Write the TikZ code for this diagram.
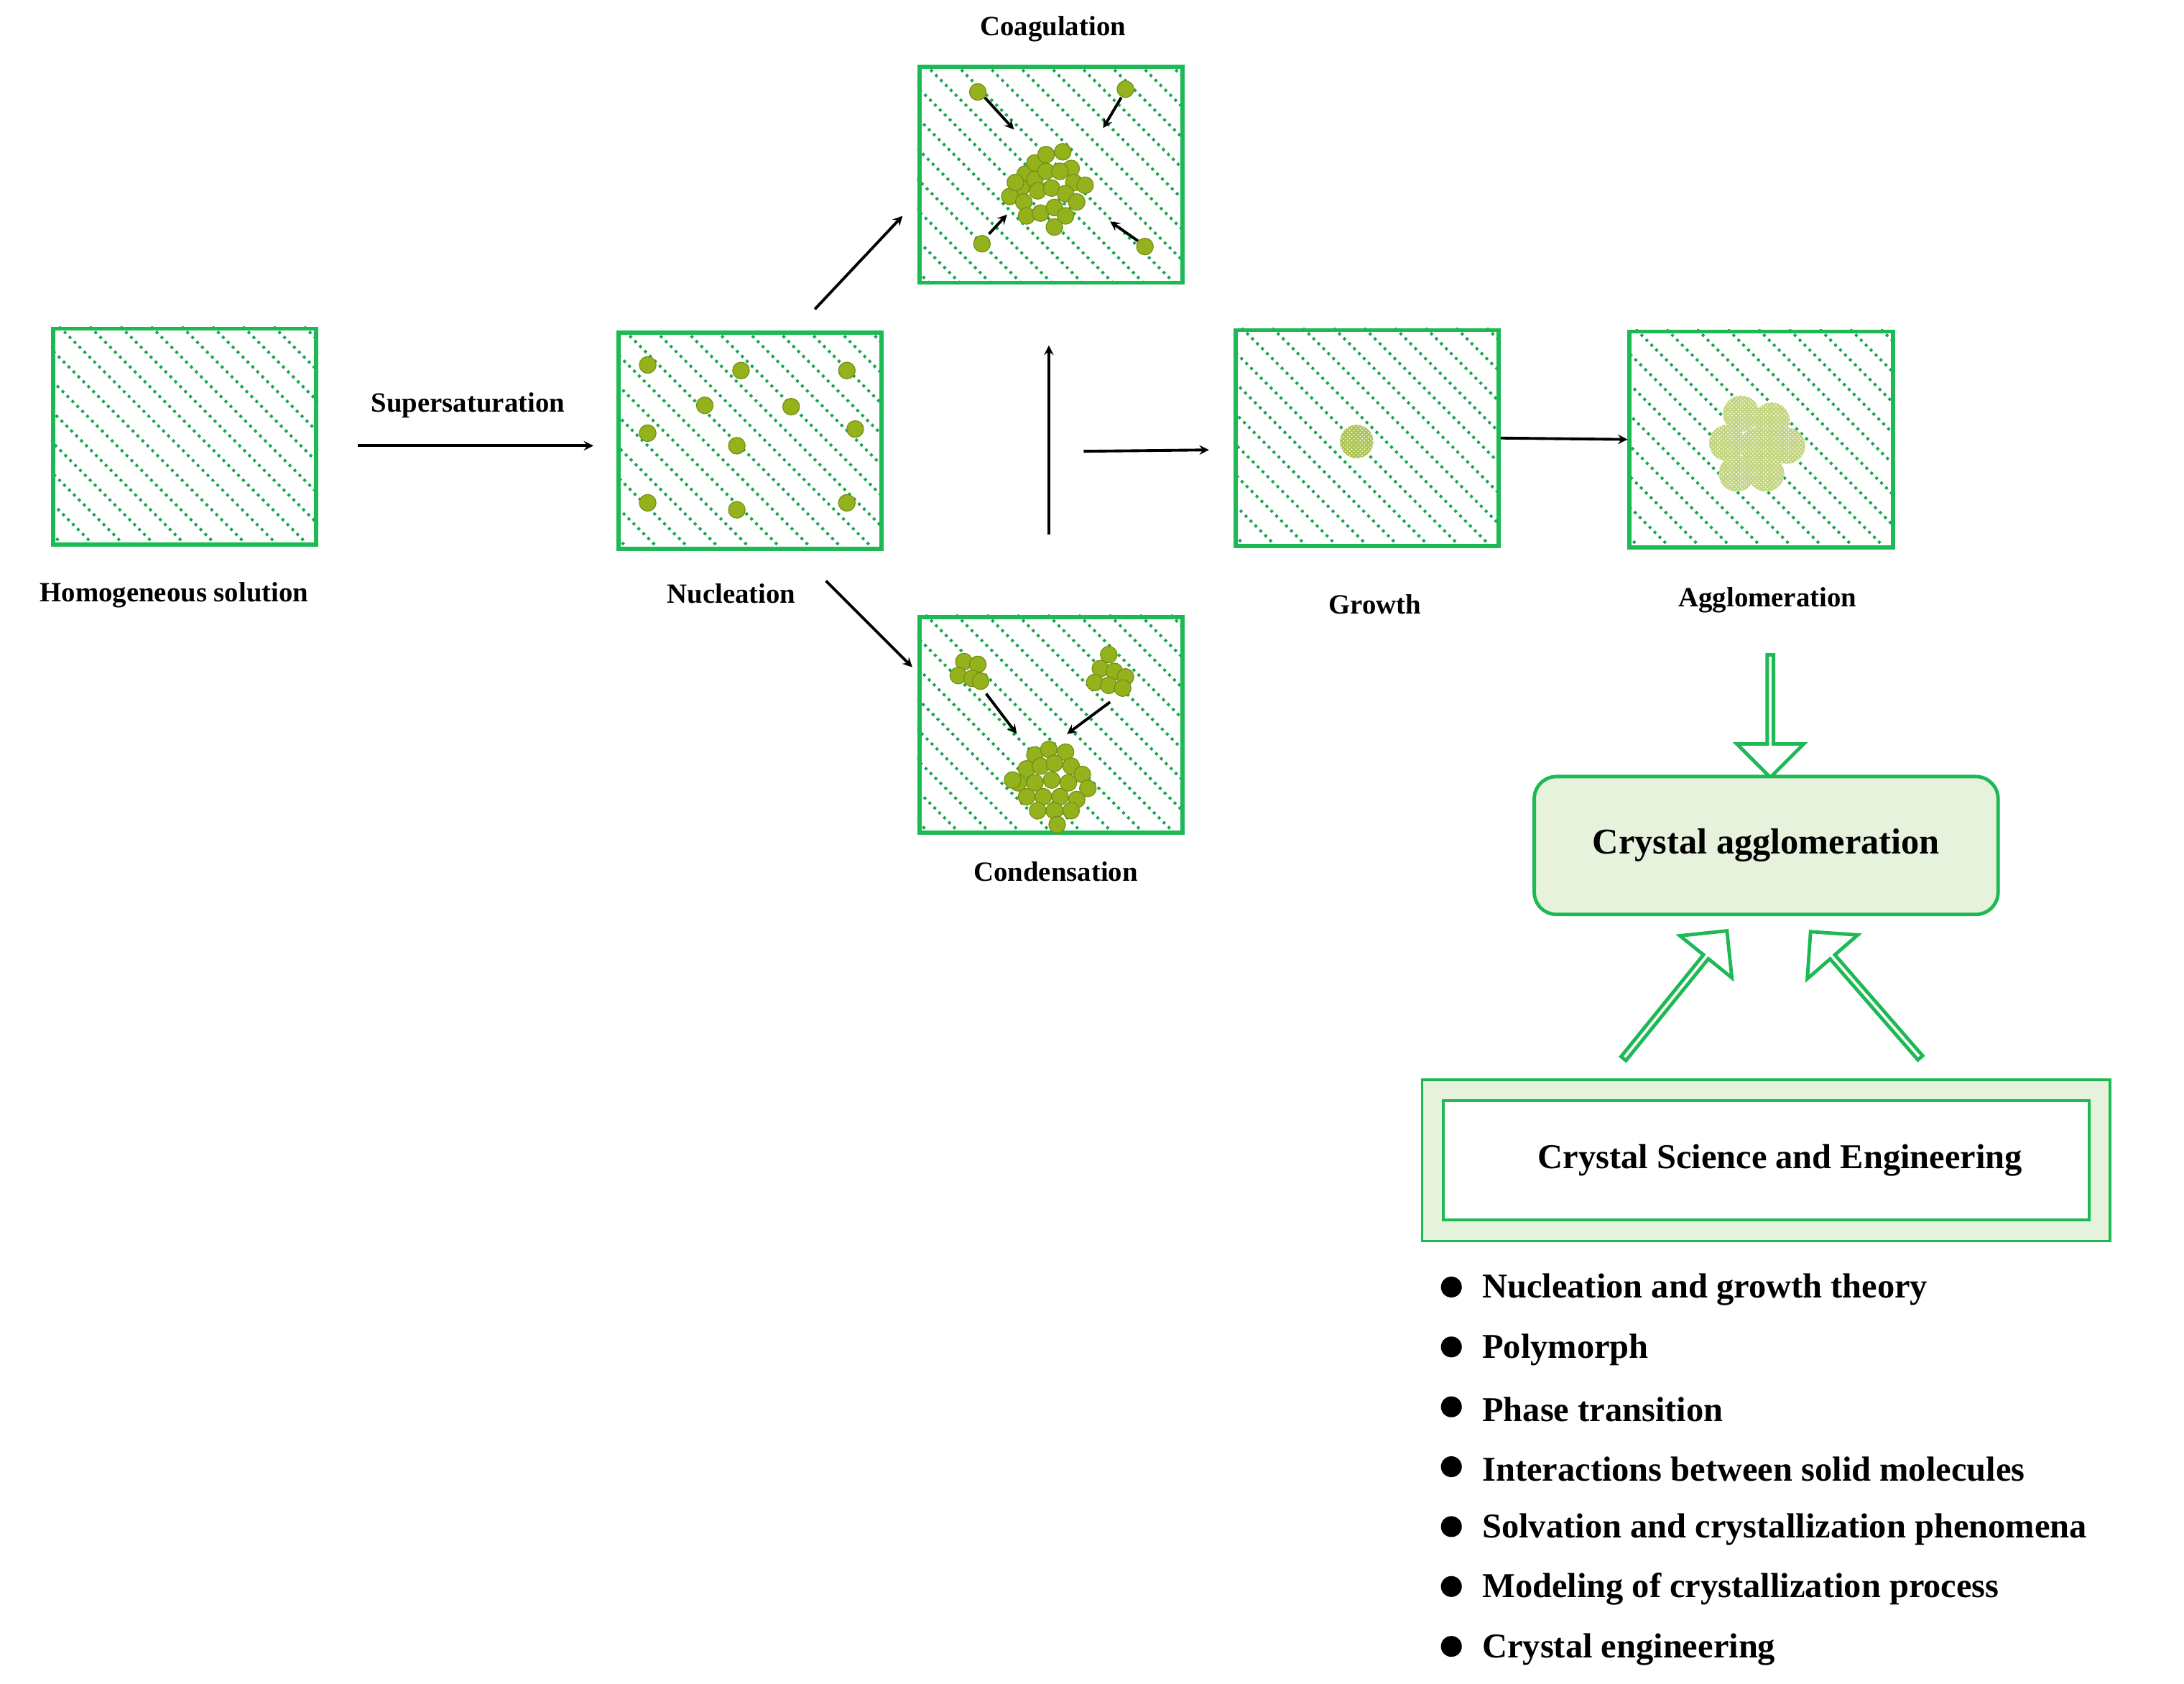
\documentclass[tikz,border=0pt]{standalone}
\usepackage{fontspec}
\setmainfont{Liberation Serif}
\usetikzlibrary{shapes.arrows,patterns}
\definecolor{boxgreen}{HTML}{1DB954}
\definecolor{dotgreen}{HTML}{16A84A}
\definecolor{olive}{HTML}{93B21C}
\definecolor{palegreen}{HTML}{E6F2DC}

\tikzset{
  sol box/.style={draw=boxgreen,line width=3pt,minimum width=189pt,minimum height=155pt,inner sep=0pt},
  hatch/.style={dotgreen,line width=2pt,dash pattern=on 2pt off 3pt},
  lbl/.style={font=\fontsize{20}{24}\selectfont\bfseries},
  item/.style={font=\fontsize{25}{30}\selectfont\bfseries,anchor=west,inner sep=0pt},
  flow/.style={->,>=stealth,line width=2pt},
  small/.style={->,>=stealth,line width=2pt,shorten >=0pt},
  ball/.style={fill=olive,draw=olive!80!black,line width=.6pt},
  bigball/.style={fill=olive!70,pattern color=white},
  hollow/.style={single arrow,draw=boxgreen,fill=white,line width=2.5pt,minimum width=48pt,
    single arrow head extend=12pt,inner sep=0pt,single arrow tip angle=90}
}

% box with dotted diagonal hatching
\newcommand{\solbox}[3]{%
  \node[sol box] (#1) at (#2+94.5,#3+77.5) {};
  \begin{scope}
    \clip (#1.south west) rectangle (#1.north east);
    \foreach \k in {-170,-148,...,200}
      \draw[hatch] ([xshift=\k pt]#1.north west) -- ++(220,220);
  \end{scope}
  \node[sol box] at (#1) {};}

\begin{document}
\begin{tikzpicture}[x=1pt,y=-1pt]
\useasboundingbox (0,0) rectangle (1568,1209);

% the six vessels
\solbox{homo}{38}{236}
\solbox{nucl}{444}{239}
\solbox{coag}{660}{48}
\solbox{cond}{660}{443}
\solbox{grow}{887}{237}
\solbox{aggl}{1170}{238}

\node[lbl] (lhomo) at (125,427) {Homogeneous solution};
\node[lbl] (lsup) at (336,291) {Supersaturation};
\node[lbl] (lnucl) at (525,426) {Nucleation};
\node[lbl] (lcoag) at (756,21) {Coagulation};
\node[lbl] (lcond) at (758,626) {Condensation};
\node[lbl] (lgrow) at (987,434) {Growth};
\node[lbl] (laggl) at (1269,431) {Agglomeration};

% nuclei
\foreach \x/\y in {465/262,532/266,608/266,506/291,568/292,465/311,614/308,529/320,465/361,529/366,608/361}
  \fill[ball] (\x,\y) circle (6);

% coagulation
\foreach \x/\y in {-17/-10,-10/-18,-2/-24,10/-26,16/-14,-20/0,-10/-6,-2/-12,8/-12,18/-4,26/-2,-28/6,-18/10,-8/2,2/0,12/4,20/10,-16/20,-6/18,4/14,12/20,4/28,-24/-4}
  \fill[ball] (753+\x,135+\y) circle (6);
\foreach \x/\y in {702/66,808/64,705/175,822/177}
  \fill[ball] (\x,\y) circle (6);
\coordinate (c1) at (707,70); \coordinate (c1e) at (728,93);
\coordinate (c2) at (805,70); \coordinate (c2e) at (792,92);
\coordinate (c3) at (710,168); \coordinate (c3e) at (723,154);
\coordinate (c4) at (817,173); \coordinate (c4e) at (797,159);
\foreach \a in {c1,c2,c3,c4}
  \draw[small] (\a) -- (\a e);

% condensation
\foreach \x/\y in {-4/-6,6/-4,-8/4,2/6,8/8}
  \fill[ball] (696+\x,481+\y) circle (6);
\foreach \x/\y in {0/-12,-6/-2,4/0,12/4,-10/8,0/10,10/12}
  \fill[ball] (796+\x,482+\y) circle (6);
\foreach \x/\y in {-14/-18,-4/-22,8/-20,-20/-8,-10/-10,0/-12,12/-10,20/-4,-26/2,-14/2,-2/0,10/2,24/6,-20/12,-8/12,4/12,16/14,-12/22,0/22,12/22,2/32,-30/0}
  \fill[ball] (757+\x,560+\y) circle (6);
\coordinate (d1) at (708,498); \coordinate (d1e) at (730,527);
\coordinate (d2) at (797,504); \coordinate (d2e) at (766,527);
\foreach \a in {d1,d2}
  \draw[small] (\a) -- (\a e);

% grown crystals
\fill[olive!75] (974,317) circle (12);
\fill[pattern=crosshatch dots,pattern color=white] (974,317) circle (12);
\foreach \x/\y in {1250/297,1272/302,1240/318,1262/320,1283/320,1247/340,1268/340}{
  \fill[olive!55] (\x,\y) circle (13);
  \fill[pattern=crosshatch dots,pattern color=white] (\x,\y) circle (13);}

% process arrows
\coordinate (s1) at (257,320); \coordinate (s2) at (426,320);
\coordinate (n1) at (585,222); \coordinate (n2) at (648,155);
\coordinate (n3) at (593,417); \coordinate (n4) at (655,479);
\coordinate (u1) at (753,384); \coordinate (u2) at (753,248);
\coordinate (g1) at (778,324); \coordinate (g2) at (868,323);
\draw[flow] (s1) -- (s2);
\draw[flow] (n1) -- (n2);
\draw[flow] (n3) -- (n4);
\draw[flow] (u1) -- (u2);
\draw[flow] (g1) -- (g2);
\draw[flow] (grow.east) -- (aggl.west);

% summary
\node[hollow,minimum height=88pt,rotate=-90] (dn) at (1271,513) {};
\node[draw=boxgreen,line width=2.5pt,fill=palegreen,rounded corners=16pt,
  minimum width=333pt,minimum height=99pt,font=\fontsize{26}{30}\selectfont\bfseries] (ca) at (1268,607) {Crystal agglomeration};
\node[hollow,minimum height=118pt,rotate=51] (l) at (1202,715) {};
\node[hollow,minimum height=120pt,rotate=131] (r) at (1340,715) {};
\node[draw=boxgreen,line width=2pt,fill=palegreen,minimum width=494pt,minimum height=116pt] (cse) at (1268,833) {};
\node[draw=boxgreen,line width=2pt,fill=white,minimum width=464pt,minimum height=86pt,
  font=\fontsize{25}{30}\selectfont\bfseries] at (cse) {\hspace*{20pt}Crystal Science and Engineering};

\foreach \y/\t in {926/Nucleation and growth theory,969/Polymorph,1012/Phase transition,
  1055/Interactions between solid molecules,1098/Solvation and crystallization phenomena,
  1141/Modeling of crystallization process,1184/Crystal engineering}{
  \fill (1042,\y-2) circle (7.5);
  \node[item] at (1064,\y) {\t};}
\end{tikzpicture}
\end{document}
